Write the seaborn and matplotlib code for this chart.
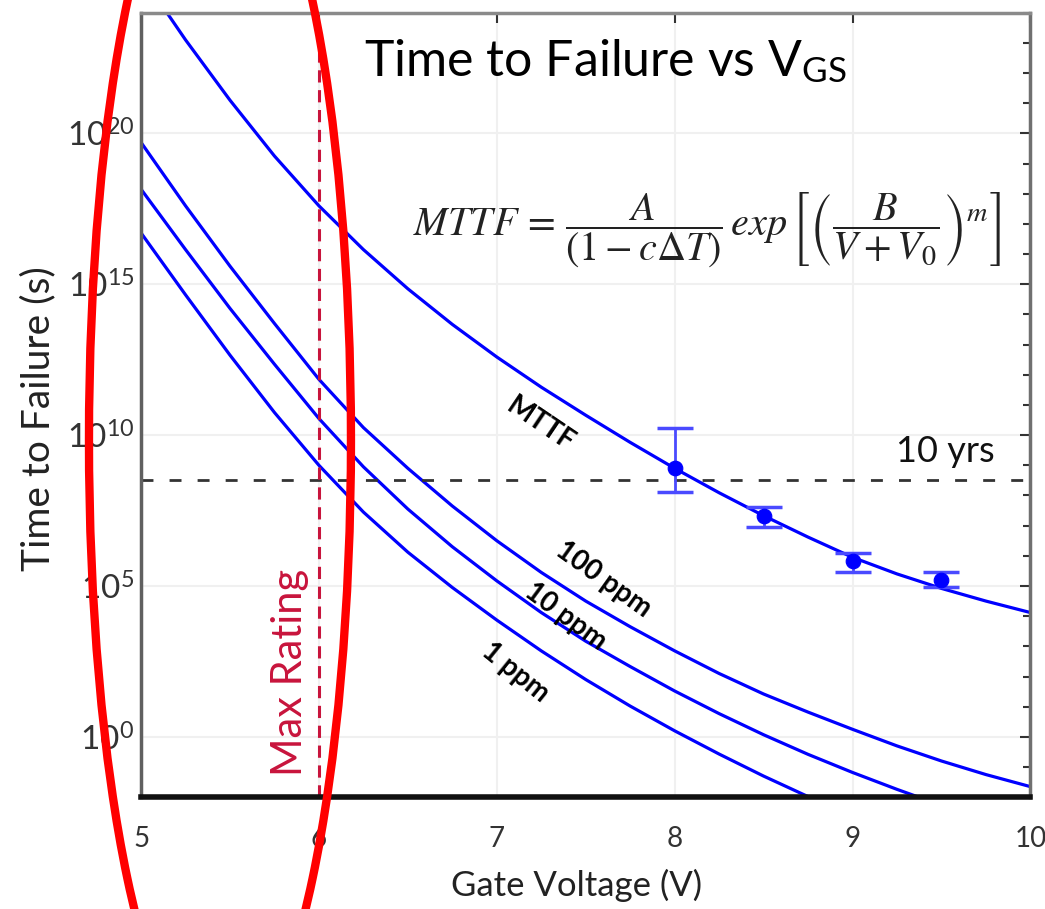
import numpy as np
import pandas as pd
import matplotlib
matplotlib.use('Agg')
import matplotlib.pyplot as plt
import seaborn as sns
from matplotlib.patches import Ellipse

# gate voltage grid (V) and log10 of time to failure (s)
voltage = [5.0, 5.25, 5.5, 5.75, 6.0, 6.25, 6.5, 6.75, 7.0, 7.25, 7.5,
           7.75, 8.0, 8.25, 8.5, 8.75, 9.0, 9.25, 9.5, 9.75, 10.0]
mttf_log = [25.25, 23.1, 21.1, 19.25, 17.6, 16.15, 14.85, 13.67, 12.59, 11.59, 10.66,
            9.76, 8.9, 8.09, 7.33, 6.62, 5.95, 5.4, 4.92, 4.5, 4.12]
ppm100_log = [19.7, 17.6, 15.6, 13.7, 11.85, 10.25, 8.9, 7.65, 6.5, 5.45, 4.5,
              3.65, 2.85, 2.1, 1.42, 0.82, 0.25, -0.3, -0.8, -1.25, -1.65]
ppm10_log = [18.15, 16.15, 14.2, 12.35, 10.55, 8.95, 7.55, 6.3, 5.17, 4.12, 3.17,
             2.33, 1.52, 0.77, 0.07, -0.58, -1.18, -1.74, -2.27]
ppm1_log = [16.7, 14.65, 12.65, 10.75, 9.0, 7.45, 6.12, 4.95, 3.87, 2.85, 1.9,
            1.02, 0.2, -0.57, -1.3, -1.98, -2.6]

# measured points with error bars (log10 s)
meas_v = [8.0, 8.5, 9.0, 9.5]
meas_log = [8.92, 7.31, 5.82, 5.21]
meas_lo_log = [8.10, 6.97, 5.47, 4.95]
meas_hi_log = [10.25, 7.63, 6.10, 5.45]

ten_years = 3.156e8
max_rating = 6.0
curve_names = ['MTTF', '100 ppm', '10 ppm', '1 ppm']

rows = []
for name, logs in zip(curve_names, [mttf_log, ppm100_log, ppm10_log, ppm1_log]):
    for v, l in zip(voltage, logs):
        rows.append({'curve': name, 'V': v, 'ttf': 10.0 ** l})
df = pd.DataFrame(rows)

sns.set_theme(style='white')
plt.rcParams['font.family'] = ['Lato', 'DejaVu Sans']
plt.rcParams['mathtext.fontset'] = 'stix'

fig = plt.figure(figsize=(10.45, 9.09), dpi=100)
ax = fig.add_axes([0.135, 0.123, 0.851, 0.863])

sns.lineplot(data=df, x='V', y='ttf', units='curve', estimator=None,
             color='#0000ff', lw=2.3, ax=ax, legend=False, sort=False)
ax.set_yscale('log')

mv = np.array(meas_v)
my = 10.0 ** np.array(meas_log)
yerr = [my - 10.0 ** np.array(meas_lo_log), 10.0 ** np.array(meas_hi_log) - my]
ax.errorbar(mv, my, yerr=yerr, fmt='none', ecolor='#4a4aff', elinewidth=2,
            capsize=13, capthick=2.5, zorder=4)
sns.scatterplot(x=meas_v, y=my, color='#0000ff', s=110, marker='o',
                edgecolor='#0000ff', ax=ax, zorder=5)

ax.axhline(ten_years, color='#333333', ls=(0, (4.3, 5.8)), lw=2)
ax.axvline(max_rating, ymax=0.97, color='#c8143c', ls=(0, (4, 2.5)), lw=2.2)

ax.set_xlim(5, 10)
ax.set_ylim(1e-2, 1e24)
ax.set_xticks([5, 6, 7, 8, 9, 10])
ax.set_yticks([10.0 ** k for k in range(0, 25, 5)])
ax.set_yticks([10.0 ** k for k in range(-2, 25)], minor=True)
ax.yaxis.set_minor_formatter(matplotlib.ticker.NullFormatter())
ax.tick_params(axis='both', which='both', direction='in', top=True, right=True,
               colors='#333333')
ax.tick_params(axis='both', which='major', length=7, width=1.5)
ax.tick_params(axis='y', which='minor', length=5, width=1.5)
ax.tick_params(axis='x', labelsize=20, pad=21)
ax.tick_params(axis='y', labelsize=24, pad=5)
ax.grid(True, which='major', color='#f0f0f0', lw=1.5)

for side, col, w in [('left', '#606060', 2.5), ('bottom', '#111111', 4),
                     ('top', '#8a8a8a', 2.5), ('right', '#707070', 2.5)]:
    ax.spines[side].set_color(col)
    ax.spines[side].set_linewidth(w)

ax.set_xlabel('Gate Voltage (V)', fontsize=25, color='#222222')
ax.set_ylabel('Time to Failure (s)', fontsize=28, color='#222222')
ax.xaxis.set_label_coords(0.49, -0.112)
ax.yaxis.set_label_coords(-0.116, 0.483)
ax.xaxis.label.set_va('center')
ax.yaxis.label.set_va('center')

ax.text(0.522, 0.9375, 'Time to Failure vs V$_{\\mathregular{GS}}$',
        transform=ax.transAxes, ha='center', va='center', fontsize=36, color='black')
ax.text(0.637, 0.723,
        r'$MTTF\,=\,\dfrac{A}{(1-c\Delta T)}\,exp\,\left[\left(\dfrac{B}{V+V_0}\right)^{m}\right]$',
        transform=ax.transAxes, ha='center', va='center', fontsize=29, color='#222222')
ax.text(9.52, 10 ** 9.45, '10 yrs', ha='center', va='center', fontsize=26, color='#111111')
ax.text(5.84, 10 ** 2.12, 'Max Rating', rotation=90, ha='center', va='center',
        fontsize=30, color='#c8143c')

label_pos = {'MTTF': (7.244, 10.35, -34), '100 ppm': (7.598, 5.21, -35.5),
             '10 ppm': (7.385, 3.98, -36.5), '1 ppm': (7.104, 2.15, -39)}
for name, (x, ly, rot) in label_pos.items():
    ax.text(x, 10 ** ly, name, rotation=rot, ha='center', va='center',
            fontsize=20, fontweight='bold', color='black', rotation_mode='anchor')

fig.add_artist(Ellipse((0.2105, 0.516), 0.2507, 1.364, transform=fig.transFigure,
                       fill=False, ec='#ff0000', lw=6, clip_on=False))

plt.savefig('out.png', dpi=100)
